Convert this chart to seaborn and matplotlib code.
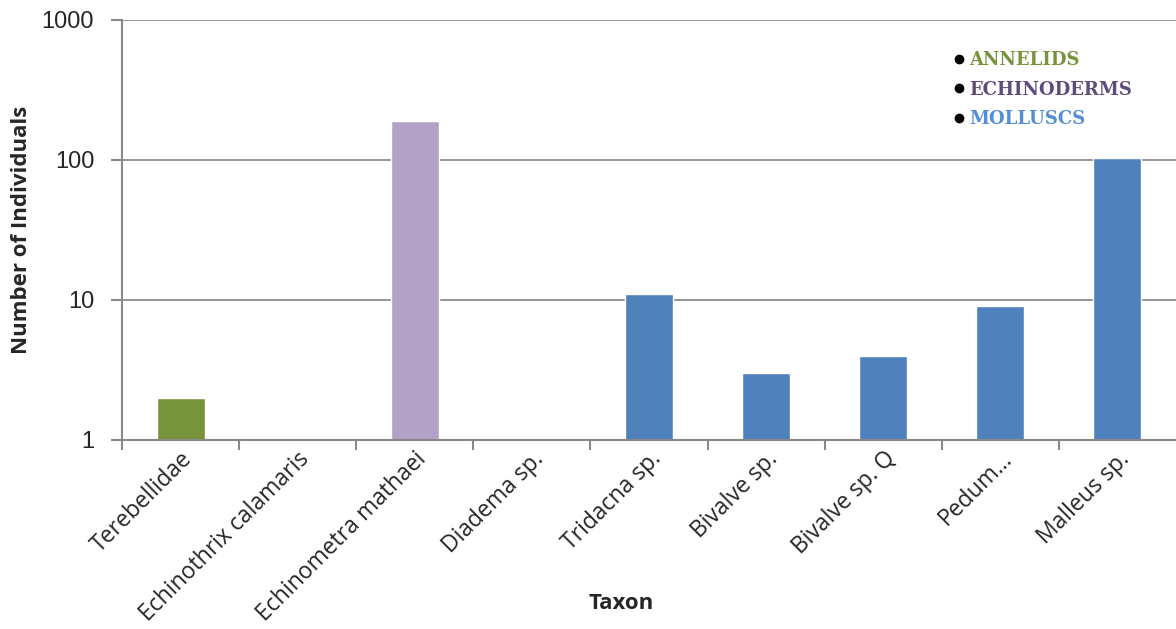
import seaborn as sns
import matplotlib.pyplot as plt
import pandas as pd
from matplotlib.lines import Line2D

# values (log scale)
taxa = ['Terebellidae', 'Echinothrix calamaris', 'Echinometra mathaei', 'Diadema sp.',
        'Tridacna sp.', 'Bivalve sp.', 'Bivalve sp. Q', 'Pedum...', 'Malleus sp.']
counts = [2, 1, 190, 1, 11, 3, 4, 9, 103]
groups = ['ANNELIDS', 'ECHINODERMS', 'ECHINODERMS', 'ECHINODERMS',
          'MOLLUSCS', 'MOLLUSCS', 'MOLLUSCS', 'MOLLUSCS', 'MOLLUSCS']
group_names = ['ANNELIDS', 'ECHINODERMS', 'MOLLUSCS']
bar_colors = ['#77933C', '#B3A2C7', '#4F81BD']
text_colors = ['#77933C', '#604A7B', '#558ED5']
yticks = [1, 10, 100, 1000]
yticklabels = ['1', '10', '100', '1000']

df = pd.DataFrame({'taxon': taxa, 'count': counts, 'group': groups})

sns.set_style("white")
plt.rcParams['font.family'] = ['Open Sans', 'DejaVu Sans']

fig = plt.figure(figsize=(11.76, 6.29), dpi=100)
ax = fig.add_axes([122 / 1176, 1 - 440 / 629, 1054 / 1176, 420 / 629])

sns.barplot(data=df, x='taxon', y='count', hue='group', hue_order=group_names,
            palette=dict(zip(group_names, bar_colors)), dodge=False, width=0.41,
            legend=False, ax=ax, saturation=1)
ax.set_yscale('log')
ax.set_ylim(1, 1000)
ax.set_xlim(-0.5, len(taxa) - 0.5)
ax.set_yticks(yticks)
ax.set_yticklabels(yticklabels, fontsize=17, family='Liberation Sans')
ax.minorticks_off()

# category boundary ticks, labels at bar centres
ax.set_xticks([i - 0.5 for i in range(len(taxa))])
ax.set_xticklabels([])
ax.set_xticks(range(len(taxa)), minor=True)
ax.set_xticklabels(taxa, minor=True, rotation=45, ha='right', rotation_mode='anchor', fontsize=16.5)
ax.tick_params(axis='x', which='major', direction='out', length=7, width=1.5, color='#898989', bottom=True)
ax.tick_params(axis='x', which='minor', length=0, pad=5)
ax.tick_params(axis='y', direction='out', length=8, width=1.5, color='#898989', left=True, pad=12)

ax.grid(axis='y', color='#8C8C8C', linewidth=1.3)
ax.set_axisbelow(True)
for s in ['top', 'right']:
    ax.spines[s].set_visible(False)
for s in ['left', 'bottom']:
    ax.spines[s].set_color('#898989')
    ax.spines[s].set_linewidth(1.5)

ax.set_xlabel('Taxon', fontsize=16, fontweight='bold')
ax.xaxis.set_label_coords(0.474, -0.365)
ax.set_ylabel('Number of Individuals', fontsize=16, fontweight='bold')
ax.yaxis.set_label_coords(-0.085, 0.5)

handles = [Line2D([], [], marker='o', color='black', linestyle='', markersize=6) for _ in group_names]
leg = ax.legend(handles, group_names, loc='upper left', bbox_to_anchor=(0.77, 0.965),
                frameon=False, handletextpad=0.05, labelspacing=0.65, handlelength=1,
                prop={'family': 'DejaVu Serif', 'weight': 'bold', 'size': 13})
for t, c in zip(leg.get_texts(), text_colors):
    t.set_color(c)

plt.savefig('out.png', dpi=100)
